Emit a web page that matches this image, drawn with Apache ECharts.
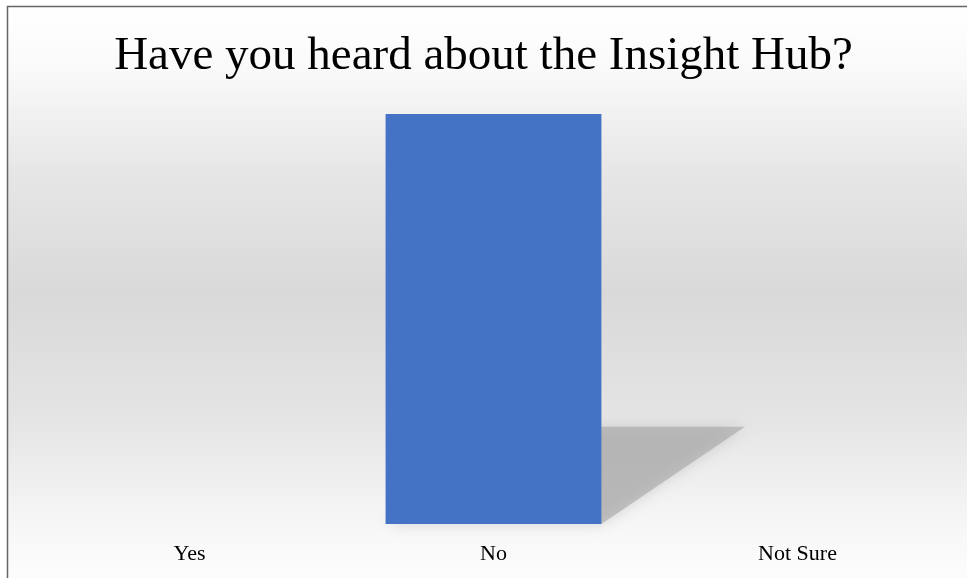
<!DOCTYPE html>
<html><head><meta charset="utf-8">
<script src="https://cdn.jsdelivr.net/npm/echarts@6/dist/echarts.min.js"></script>
<style>html,body{margin:0;padding:0;background:#fff}#c{width:967px;height:578px}</style>
</head><body><div id="c"></div>
<script>
const titleText = 'Have you heard about the Insight Hub?';
const categories = ['Yes', 'No', 'Not Sure'];
const values = [0, 100, 0];

const chart = echarts.init(document.getElementById('c'));
const font = "'Liberation Serif', 'Times New Roman', serif";
const bgGrad = new echarts.graphic.LinearGradient(0, 0, 0, 1, [
  {offset: 0, color: '#ffffff'},
  {offset: 0.1, color: '#fafafa'},
  {offset: 0.28, color: '#e6e6e6'},
  {offset: 0.48, color: '#d9d9d9'},
  {offset: 0.68, color: '#e4e4e4'},
  {offset: 0.88, color: '#f8f8f8'},
  {offset: 1, color: '#ffffff'}
]);
chart.setOption({
  animation: false,
  backgroundColor: '#ffffff',
  graphic: [{
    type: 'rect', z: -10, silent: true,
    shape: {x: 7.5, y: 6.5, width: 1000, height: 600},
    style: {fill: bgGrad, stroke: '#666666', lineWidth: 1.5}
  }],
  title: {
    text: titleText, left: 'center', top: 28,
    textStyle: {fontFamily: font, fontSize: 47, fontWeight: 'normal', color: '#000'}
  },
  grid: {left: 37.5, right: 17.5, top: 114, bottom: 54},
  xAxis: {
    type: 'category', data: categories,
    axisLine: {show: false}, axisTick: {show: false},
    axisLabel: {fontFamily: font, fontSize: 22, color: '#000', margin: 19}
  },
  yAxis: {type: 'value', min: 0, max: 100, show: false, splitLine: {show: false}},
  series: [{
    type: 'custom', z: 1, silent: true,
    renderItem: function (params, api) {
      const base = api.coord([api.value(0), 0]);
      const top = api.coord([api.value(0), api.value(1)]);
      const w = api.size([1, 0])[0] * 0.71;
      const h = base[1] - top[1];
      if (h <= 0) return null;
      const dx = h * 0.35, dy = h * 0.237;
      const x0 = base[0] - w / 2, x1 = base[0] + w / 2;
      return {
        type: 'polygon',
        shape: {points: [[x0, base[1]], [x1, base[1]], [x1 + dx, base[1] - dy], [x0 + dx, base[1] - dy]]},
        style: {fill: 'rgba(165,165,165,0.6)', shadowBlur: 14, shadowColor: 'rgba(165,165,165,0.7)'}
      };
    },
    data: categories.map((c, i) => [i, values[i]])
  }, {
    type: 'bar', z: 2, data: values, barWidth: '71%',
    itemStyle: {color: '#4472C4'}
  }]
});
</script></body></html>
